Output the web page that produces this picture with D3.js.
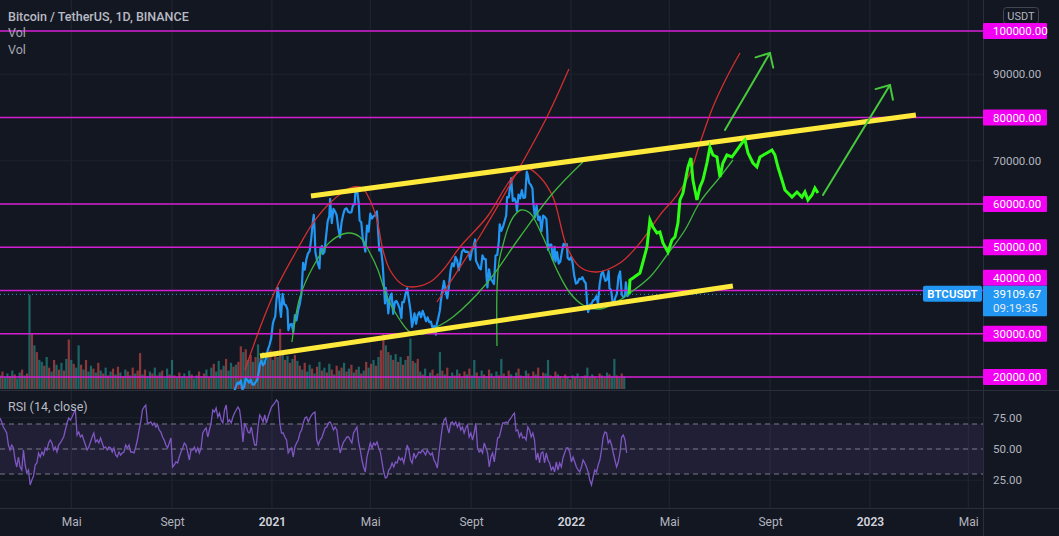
<!DOCTYPE html>
<html><head><meta charset="utf-8">
<script src="https://cdn.jsdelivr.net/npm/d3@7"></script>
<style>
html,body{margin:0;padding:0;background:#131722;overflow:hidden}
text{font-family:Roboto,"Noto Sans",sans-serif}
</style></head><body>
<svg id="chart" width="1059" height="536"></svg>
<script>
// ---------------- DATA ----------------
const priceSeries = [
["2020-11-01",13700],["2020-11-04",14100],["2020-11-07",14800],["2020-11-10",15300],["2020-11-13",16300],["2020-11-16",16700],["2020-11-18",17800],["2020-11-20",18700],["2020-11-22",18400],["2020-11-24",19200],["2020-11-26",17100],["2020-11-28",17700],["2020-11-30",19700],
["2020-12-02",19200],["2020-12-04",18700],["2020-12-06",19400],["2020-12-08",18300],["2020-12-10",18200],["2020-12-12",18800],["2020-12-14",19300],["2020-12-16",21300],["2020-12-17",22800],["2020-12-19",23800],["2020-12-21",22700],["2020-12-23",23200],["2020-12-25",24700],["2020-12-27",26300],["2020-12-29",27400],["2020-12-31",28900],
["2021-01-02",32200],["2021-01-03",33000],["2021-01-05",34000],["2021-01-06",36800],["2021-01-08",40600],["2021-01-10",38200],["2021-01-11",35500],["2021-01-12",33900],["2021-01-14",39200],["2021-01-16",36800],["2021-01-18",36600],["2021-01-20",35500],["2021-01-21",30800],["2021-01-23",32100],["2021-01-25",32300],["2021-01-27",30400],["2021-01-29",34300],["2021-01-31",33100],
["2021-02-02",35500],["2021-02-04",36900],["2021-02-06",39300],["2021-02-08",46400],["2021-02-10",44800],["2021-02-12",47200],["2021-02-14",48600],["2021-02-16",49100],["2021-02-18",52100],["2021-02-20",56000],["2021-02-21",57500],["2021-02-22",54200],["2021-02-23",48900],["2021-02-25",47000],["2021-02-26",46300],["2021-02-28",45100],
["2021-03-01",49600],["2021-03-03",50300],["2021-03-04",48400],["2021-03-06",48900],["2021-03-08",52400],["2021-03-10",56000],["2021-03-12",57200],["2021-03-13",61200],["2021-03-15",55600],["2021-03-17",58900],["2021-03-19",58300],["2021-03-21",57400],["2021-03-23",54400],["2021-03-25",52300],["2021-03-27",55800],["2021-03-29",57600],["2021-03-31",58800],
["2021-04-02",59000],["2021-04-04",58200],["2021-04-06",58000],["2021-04-08",58100],["2021-04-10",59800],["2021-04-12",59900],["2021-04-13",63600],["2021-04-15",63100],["2021-04-17",60000],["2021-04-18",56200],["2021-04-20",55800],["2021-04-22",51700],["2021-04-23",51100],["2021-04-25",49000],["2021-04-27",55000],["2021-04-29",53600],
["2021-05-01",57800],["2021-05-03",56600],["2021-05-05",57200],["2021-05-07",57400],["2021-05-09",58300],["2021-05-10",55800],["2021-05-12",49200],["2021-05-14",49700],["2021-05-16",46400],["2021-05-17",43500],["2021-05-19",37000],["2021-05-20",40600],["2021-05-22",37500],["2021-05-23",34700],["2021-05-25",38400],["2021-05-27",39300],["2021-05-29",34600],["2021-05-31",37300],
["2021-06-02",37600],["2021-06-04",36800],["2021-06-06",35800],["2021-06-08",33600],["2021-06-09",37300],["2021-06-11",37300],["2021-06-13",39100],["2021-06-15",40500],["2021-06-17",38100],["2021-06-19",35500],["2021-06-21",31600],["2021-06-22",32500],["2021-06-24",34700],["2021-06-26",32300],["2021-06-28",34400],["2021-06-30",35000],
["2021-07-02",33800],["2021-07-04",35300],["2021-07-06",34200],["2021-07-08",32900],["2021-07-10",33800],["2021-07-12",32700],["2021-07-14",32800],["2021-07-16",31400],["2021-07-18",31800],["2021-07-20",29800],["2021-07-21",32100],["2021-07-23",33600],["2021-07-25",35400],["2021-07-26",37300],["2021-07-28",40000],["2021-07-30",42200],
["2021-08-01",39800],["2021-08-03",38200],["2021-08-05",40900],["2021-08-07",44600],["2021-08-09",46300],["2021-08-11",45600],["2021-08-13",47800],["2021-08-15",47000],["2021-08-17",44700],["2021-08-19",46700],["2021-08-21",49000],["2021-08-23",49500],["2021-08-25",48900],["2021-08-27",49000],["2021-08-29",48800],["2021-08-31",47100],
["2021-09-02",49300],["2021-09-04",50000],["2021-09-06",51800],["2021-09-07",46900],["2021-09-09",46100],["2021-09-11",45200],["2021-09-13",44900],["2021-09-15",48100],["2021-09-17",47300],["2021-09-19",47200],["2021-09-20",43000],["2021-09-21",40700],["2021-09-23",44900],["2021-09-25",42700],["2021-09-27",42200],["2021-09-29",41500],
["2021-10-01",48100],["2021-10-03",48200],["2021-10-05",51500],["2021-10-06",55300],["2021-10-08",53800],["2021-10-10",54700],["2021-10-12",56000],["2021-10-14",57400],["2021-10-15",61600],["2021-10-17",61500],["2021-10-19",64300],["2021-10-20",66000],["2021-10-22",60700],["2021-10-24",61300],["2021-10-26",60300],["2021-10-27",58400],["2021-10-29",62200],["2021-10-31",61300],
["2021-11-02",63200],["2021-11-04",61400],["2021-11-06",61500],["2021-11-08",67500],["2021-11-09",66900],["2021-11-11",64900],["2021-11-13",64400],["2021-11-15",63600],["2021-11-16",60300],["2021-11-18",56900],["2021-11-20",59700],["2021-11-22",56300],["2021-11-24",57100],["2021-11-26",53700],["2021-11-28",57300],["2021-11-30",57000],
["2021-12-02",56500],["2021-12-03",53600],["2021-12-04",49400],["2021-12-06",50600],["2021-12-08",50600],["2021-12-10",47100],["2021-12-12",50100],["2021-12-13",46700],["2021-12-15",48900],["2021-12-17",46200],["2021-12-19",46700],["2021-12-21",49000],["2021-12-23",50800],["2021-12-25",50400],["2021-12-27",50700],["2021-12-28",47500],["2021-12-30",47100],
["2022-01-01",47700],["2022-01-03",46400],["2022-01-05",43400],["2022-01-07",41600],["2022-01-09",41800],["2022-01-11",42700],["2022-01-13",42600],["2022-01-15",43100],["2022-01-17",42200],["2022-01-19",41700],["2022-01-21",36400],["2022-01-22",35000],["2022-01-24",36700],["2022-01-26",36900],["2022-01-28",37700],["2022-01-30",37900],
["2022-02-01",38700],["2022-02-03",37000],["2022-02-05",41400],["2022-02-07",43800],["2022-02-09",44400],["2022-02-10",43500],["2022-02-12",42200],["2022-02-14",42500],["2022-02-16",44500],["2022-02-17",40500],["2022-02-19",40100],["2022-02-21",37000],["2022-02-23",37300],["2022-02-24",38300],["2022-02-26",39200],["2022-02-28",43200],
["2022-03-02",44400],["2022-03-04",39100],["2022-03-06",38400],["2022-03-08",38700],["2022-03-09",41900],["2022-03-11",38700],["2022-03-13",39110]
];
const lastPrice = 39109.67;
const lastPriceTime = "09:19:35";
const symbol = "BTCUSDT";

// projected path drawn by the author: [days since 2021-01-01, price]
const projection = [
[436,39110],[437,42426],[440.7,42889],[449.2,44045],[452.9,46588],[457.8,50056],[461.4,56298],[465.1,54680],[470,53293],[473.6,53524],[477.3,50981],[483.4,48900],[488.3,51674],[491.9,52368],[495.6,55605],[498,60922],[501.7,62541],[507.8,68552],[511.5,70633],[513.9,65546],[518.8,60922],[522.5,63928],[526.1,65546],[531,69477],[534.7,73176],[538.3,71326],[543.2,70864],[546.9,66240],[550.5,69477],[555.4,71326],[561.5,70864],[567.6,72482],[573.7,74101],[577.4,74794],[581.1,71789],[587.2,69477],[592,68552],[595.7,70864],[604.2,71789],[610.4,72482],[614,71326],[617.7,68552],[622.6,65546],[626.2,63234],[629.9,62541],[634.8,61616],[640.9,62772],[647,61616],[650.6,62772],[654.3,60922],[659.2,62078],[662.8,63697],[666.5,62541]
];
const upperChannel = [[47.6,61850],[786.1,80570]];
const lowerChannel = [[-14.6,24850],[562.7,41040]];
const redWave = [[-33,21620],[-11,33180],[6.1,40810],[30.5,49360],[50,55600],[70.8,60230],[95.2,63700],[109.9,63700],[119.6,60920],[128.2,56300],[135.5,49360],[144,44740],[159.9,41270],[170.9,40810],[192.9,41960],[208.7,44740],[229.5,50060],[262.5,56990],[294.2,66240],[311.3,68320],[327.1,66240],[343,61620],[360.1,50060],[376,45430],[396.7,44280],[424.8,46360],[449.2,50980],[473.6,57450],[494.4,62080],[510.3,67170],[522.5,74100],[538.3,82420],[555.4,89360],[571.3,94910]];
const redLine = [[201.4,37340],[253.9,52600],[302.7,68550],[335.7,80110],[362.5,91210]];
const greenWave = [[24.4,28090],[34.2,38500],[50,45430],[70.8,51210],[92.8,53290],[107.4,52370],[119.6,48670],[129.4,44740],[140.4,38500],[156.2,33180],[168.5,30400],[184.3,29940],[201.4,31560],[220.9,33870],[262.5,41730],[302.7,52370],[343,62540],[379.6,69710]];
const greenCurve = [[274.7,27170],[274.7,40110],[277.1,46590],[282,50520],[288.1,54450],[295.4,57220],[304,58610],[314.9,57920],[330.8,52370],[347.9,44740],[363.8,39420],[379.6,36650],[400.4,35720],[418.7,37110],[437,39420],[461.4,43120],[482.2,48210],[504.2,53990],[522.5,60460],[546.9,66240],[562.7,70170]];
const arrows = [[[553,77110],[607.9,94910]],[[672.6,62080],[754.4,87510]]];

const levelLines = [100000, 80000, 60000, 50000, 40000, 30000, 20000];
const plainTicks = [90000, 70000];
const gridPrices = [20000,30000,40000,50000,60000,70000,80000,90000,100000];

const timeTicks = ["2020-05-01","2020-09-01","2021-01-01","2021-05-01","2021-09-01","2022-01-01","2022-05-01","2022-09-01","2023-01-01","2023-05-01"];
const timeLabels = ["Mai","Sept","2021","Mai","Sept","2022","Mai","Sept","2023","Mai"];

const rsiStart = "2020-02-04", rsiEnd = "2022-03-10";
const rsiValues = [74.8,71.6,67.6,65.2,62.8,53.2,49.2,53.2,50.8,41.2,35.6,43.6,35.6,33.2,49.2,37.2,30.8,33.2,21.2,25.2,28.4,37.2,38.8,46.8,43.6,47.6,45.2,50.8,49.2,54.8,57.2,54.8,49.2,51.6,47.6,53.2,54.8,57.2,59.6,65.2,70.8,74.8,73.2,75.6,78.8,81.2,61.2,63.6,59.6,61.2,57.2,53.2,49.2,51.6,55.6,59.6,62.8,55.6,57.2,54.8,58.8,54.8,50.8,51.6,49.2,51.6,50.8,47.6,50.8,45.2,43.6,47.6,45.2,46.8,47.6,53.2,50.8,53.2,47.6,47.6,46.8,51.6,57.2,65.2,71.6,81.2,83.6,85.2,70.8,70.8,71.6,69.2,70.8,67.6,69.2,65.2,63.6,59.6,57.2,53.2,50.8,54.8,58.8,35.6,37.2,39.6,38.8,43.6,47.6,50.8,54.8,53.2,47.6,41.2,49.2,49.2,51.6,47.6,50.8,46.8,50.8,62.8,65.2,66.8,59.6,65.2,70.8,81.2,79.6,82.8,75.6,78.8,73.2,70.8,81.2,85.2,71.6,73.2,70.8,75.6,78.8,81.2,83.6,81.2,70.8,55.6,70.8,67.6,63.6,62.8,67.6,59.6,53.2,53.2,67.6,77.2,74.8,71.6,77.2,70.8,75.6,79.6,83.6,85.2,86.8,89.2,87.6,70.8,62.8,62.8,59.6,57.2,46.8,49.2,50.8,43.6,51.6,54.8,57.2,62.8,65.2,70.8,74.8,75.6,71.6,74.8,77.2,78.8,79.6,57.2,53.2,57.2,58.8,62.8,66.8,67.6,70.8,71.6,69.2,65.2,67.6,65.2,54.8,46.8,51.6,55.6,57.2,59.6,59.6,57.2,54.8,62.8,65.2,67.6,55.6,49.2,41.2,35.6,31.6,43.6,49.2,54.8,50.8,54.8,53.2,55.6,50.8,47.6,39.6,31.6,26.8,27.6,33.2,34.8,38.8,35.6,39.6,38.8,43.6,41.2,42.8,38.8,45.2,53.2,49.2,41.2,38.8,46.8,42.8,45.2,47.6,46.8,49.2,47.6,45.2,49.2,46.8,45.2,46.8,41.2,38.8,34.8,46.8,57.2,67.6,73.2,74.8,67.6,62.8,70.8,71.6,69.2,71.6,67.6,70.8,65.2,67.6,62.8,66.8,69.2,59.6,62.8,57.2,62.8,70.8,50.8,47.6,49.2,46.8,54.8,50.8,46.8,35.6,43.6,46.8,39.6,49.2,58.8,59.6,65.2,70.8,
70.8,71.6,70.8,73.2,74.8,77.2,78.8,64.4,65.2,59.6,62.8,58.8,59.6,57.2,67.6,65.2,59.6,62.8,57.2,41.2,46.8,38.8,46.8,47.6,38.8,46.8,41.2,38.8,33.2,35.6,31.6,39.6,33.2,38.8,35.6,42.8,46.8,50.8,50.8,47.6,39.6,43.6,39.6,35.6,33.2,31.6,35.6,41.2,38.8,35.6,31.6,25.2,21.2,27.6,33.2,31.6,37.2,41.2,49.2,59.6,63.6,62.8,54.8,57.2,53.2,46.8,41.2,35.6,39.6,46.8,59.6,61.2,57.2,46.8];
const rsiTicks = [75, 50, 25];
const rsiBands = [70, 50, 30];

// volume, one value every 3 days from volStart; positive = up day, negative = down day
const volStart = "2020-02-04", volStepDays = 3;
const volumeValues = [14,-18,12,16,-13,19,-15,11,17,-20,14,-16,97,-57,45,-38,30,28,-24,33,-22,18,-30,25,-20,27,-19,31,-51,30,-26,22,45,-25,20,-30,18,24,-21,17,-27,19,-16,22,-14,18,-21,15,-23,17,-13,20,-18,14,-22,16,-19,-37,15,-20,13,18,-16,22,-14,17,-19,12,21,-15,30,-14,12,-17,13,16,-12,19,-15,11,14,-18,13,-16,20,-12,22,-26,18,29,-20,24,-31,19,27,-23,25,-28,-44,38,-41,30,-35,28,-33,46,-32,38,-28,35,-40,30,-36,33,-62,37,-30,34,-27,31,-35,29,-24,20,-27,18,25,-21,16,-23,28,-19,22,-17,26,-20,15,-24,19,-22,27,-18,21,-25,17,-20,23,-16,19,-28,22,-26,30,-24,33,-40,-57,45,-38,35,-30,36,-28,33,-25,30,-34,52,-29,27,-31,18,-15,21,-13,17,-20,14,-16,38,-19,15,-22,13,17,-14,20,-16,12,-18,15,-21,14,30,-17,12,19,-15,13,-20,16,-12,18,-14,31,-16,13,-19,15,-12,17,-21,14,-13,19,-16,12,-18,15,-22,13,-17,16,30,-14,12,-18,15,-13,11,-15,12,-10,14,-12,16,-11,13,-14,22,-12,15,-13,11,-16,14,-12,17,-15,13,31,-14,12,-16,13];

// ---------------- CHART ----------------
const W = 1059, H = 536, plotR = 983, mainBot = 390, rsiTop = 391, rsiBot = 508;
const svg = d3.select("#chart");
const parse = d3.timeParse("%Y-%m-%d");
const base = parse("2021-01-01");
const dayT = d => new Date(base.getTime() + d * 864e5);

const x = d3.scaleTime().domain([parse("2020-02-04"), parse("2023-05-19")]).range([0, plotR]);
const y = d3.scaleLinear().domain([20000, 100000]).range([377, 31]);
const yR = d3.scaleLinear().domain([30, 70]).range([474, 424]);
const yV = d3.scaleLinear().domain([0, 100]).range([389, 292]);

svg.append("rect").attr("width", W).attr("height", H).attr("fill", "#131722");

const defs = svg.append("defs");
defs.append("clipPath").attr("id", "cMain").append("rect").attr("x", 0).attr("y", 0).attr("width", plotR).attr("height", mainBot);
defs.append("clipPath").attr("id", "cRsi").append("rect").attr("x", 0).attr("y", rsiTop).attr("width", plotR).attr("height", rsiBot - rsiTop);

// grid
const grid = svg.append("g");
grid.selectAll("line.v").data(timeTicks).join("line")
  .attr("x1", d => x(parse(d))).attr("x2", d => x(parse(d)))
  .attr("y1", 0).attr("y2", rsiBot).attr("stroke", "#232733").attr("stroke-width", 1);
grid.selectAll("line.h").data(gridPrices).join("line")
  .attr("x1", 0).attr("x2", plotR).attr("y1", d => y(d)).attr("y2", d => y(d))
  .attr("stroke", "#1f232e");
grid.selectAll("line.r").data(rsiTicks).join("line")
  .attr("x1", 0).attr("x2", plotR).attr("y1", d => yR(d)).attr("y2", d => yR(d))
  .attr("stroke", "#1f232e");

// pane separators
svg.append("line").attr("x1", 0).attr("x2", W).attr("y1", 390.5).attr("y2", 390.5).attr("stroke", "#2a2e39");
svg.append("line").attr("x1", 0).attr("x2", W).attr("y1", rsiBot + 0.5).attr("y2", rsiBot + 0.5).attr("stroke", "#2a2e39");
svg.append("line").attr("x1", plotR + 0.5).attr("x2", plotR + 0.5).attr("y1", 0).attr("y2", H).attr("stroke", "#2a2e39");

// main pane
const main = svg.append("g").attr("clip-path", "url(#cMain)");

// volume
const vol = volumeValues.map((v, i) => ({ t: d3.timeDay.offset(parse(volStart), i * volStepDays), v }));
main.append("g").selectAll("rect").data(vol).join("rect")
  .attr("x", d => x(d.t) - 1.1).attr("width", 2.2)
  .attr("y", d => yV(Math.abs(d.v))).attr("height", d => yV(0) - yV(Math.abs(d.v)))
  .attr("fill", d => d.v > 0 ? "rgba(38,166,154,0.55)" : "rgba(239,83,80,0.55)");

// price line
const price = priceSeries.map(d => ({ t: parse(d[0]), v: d[1] }));
main.append("path").datum(price)
  .attr("d", d3.line().x(d => x(d.t)).y(d => y(d.v)))
  .attr("fill", "none").attr("stroke", "#2196f3").attr("stroke-width", 2.2).attr("stroke-linejoin", "round");

// last price dotted line
main.append("line").attr("x1", 0).attr("x2", plotR).attr("y1", y(lastPrice)).attr("y2", y(lastPrice))
  .attr("stroke", "#2196f3").attr("stroke-dasharray", "1,3").attr("stroke-width", 1);

// horizontal level lines
main.selectAll("line.lvl").data(levelLines).join("line")
  .attr("x1", 0).attr("x2", plotR).attr("y1", d => y(d)).attr("y2", d => y(d))
  .attr("stroke", "#d41ed4").attr("stroke-width", 1.3);

const dl = d3.line().x(d => x(dayT(d[0]))).y(d => y(d[1])).curve(d3.curveCatmullRom.alpha(0.5));
const ll = d3.line().x(d => x(dayT(d[0]))).y(d => y(d[1]));

main.append("path").datum(redWave).attr("d", dl).attr("fill", "none").attr("stroke", "#d32f2f").attr("stroke-width", 1.3);
main.append("path").datum(redLine).attr("d", dl).attr("fill", "none").attr("stroke", "#d32f2f").attr("stroke-width", 1.3);
main.append("path").datum(greenWave).attr("d", dl).attr("fill", "none").attr("stroke", "#3fb43f").attr("stroke-width", 1.3);
main.append("path").datum(greenCurve).attr("d", dl).attr("fill", "none").attr("stroke", "#3fb43f").attr("stroke-width", 1.3);

// channel
[upperChannel, lowerChannel].forEach(c => {
  main.append("path").datum(c).attr("d", ll).attr("fill", "none").attr("stroke", "#ffe93b").attr("stroke-width", 5);
});

// projection
main.append("path").datum(projection).attr("d", ll).attr("fill", "none")
  .attr("stroke", "#2cff14").attr("stroke-width", 3).attr("stroke-linejoin", "miter");

// arrows
arrows.forEach(a => {
  const x0 = x(dayT(a[0][0])), y0 = y(a[0][1]), x1 = x(dayT(a[1][0])), y1 = y(a[1][1]);
  const ang = Math.atan2(y0 - y1, x0 - x1), L = 15, sp = Math.PI / 4.2;
  const g = main.append("g").attr("stroke", "#46c93a").attr("stroke-width", 2).attr("fill", "none").attr("stroke-linecap", "round");
  g.append("path").datum(a).attr("d", ll);
  g.append("path").attr("d", `M${x1 + L * Math.cos(ang - sp)},${y1 + L * Math.sin(ang - sp)}L${x1},${y1}L${x1 + L * Math.cos(ang + sp)},${y1 + L * Math.sin(ang + sp)}`);
});

// RSI pane
const rsi = svg.append("g").attr("clip-path", "url(#cRsi)");
rsi.append("rect").attr("x", 0).attr("width", plotR).attr("y", yR(70)).attr("height", yR(30) - yR(70)).attr("fill", "rgba(126,87,194,0.13)");
rsi.selectAll("line.b").data(rsiBands).join("line")
  .attr("x1", 0).attr("x2", plotR).attr("y1", d => yR(d)).attr("y2", d => yR(d))
  .attr("stroke", "#787b86").attr("stroke-dasharray", "5,4").attr("stroke-width", 1);
const ri = d3.scaleLinear().domain([0, rsiValues.length - 1]).range([parse(rsiStart), parse(rsiEnd)]);
rsi.append("path").datum(rsiValues)
  .attr("d", d3.line().x((d, i) => x(ri(i))).y(d => yR(d)))
  .attr("fill", "none").attr("stroke", "#7e57c2").attr("stroke-width", 1.3);

// texts top-left
svg.append("text").attr("x", 8).attr("y", 20.5).attr("fill", "#b8bbc3").attr("font-size", 12.5).attr("font-weight", 500).text("Bitcoin / TetherUS, 1D, BINANCE");
svg.append("text").attr("x", 8).attr("y", 37).attr("fill", "#a3a6ae").attr("font-size", 12.5).text("Vol");
svg.append("text").attr("x", 8).attr("y", 54).attr("fill", "#a3a6ae").attr("font-size", 12.5).text("Vol");
svg.append("text").attr("x", 8).attr("y", 411).attr("fill", "#b8bbc3").attr("font-size", 12.5).text("RSI (14, close)");

// time axis
const xAxis = d3.axisBottom(x).tickValues(timeTicks.map(parse)).tickFormat((d, i) => timeLabels[i]).tickSize(0).tickPadding(0);
const gx = svg.append("g").attr("transform", `translate(0,${rsiBot + 9})`).call(xAxis);
gx.select(".domain").remove();
gx.selectAll("text").attr("font-size", 12).attr("fill", (d, i) => /\d/.test(timeLabels[i]) ? "#d1d4dc" : "#b2b5be")
  .attr("font-weight", (d, i) => /\d/.test(timeLabels[i]) ? 600 : 400).attr("font-family", "Roboto,sans-serif");

// price axis plain ticks
const yAxis = d3.axisRight(y).tickValues(plainTicks).tickFormat(d3.format(".2f")).tickSize(0).tickPadding(10);
const gy = svg.append("g").attr("transform", `translate(${plotR},0)`).call(yAxis);
gy.select(".domain").remove();
gy.selectAll("text").attr("font-size", 11.5).attr("fill", "#b2b5be").attr("font-family", "Roboto,sans-serif");

// RSI axis
const rAxis = d3.axisRight(yR).tickValues(rsiTicks).tickFormat(d3.format(".2f")).tickSize(0).tickPadding(10);
const gr = svg.append("g").attr("transform", `translate(${plotR},0)`).call(rAxis);
gr.select(".domain").remove();
gr.selectAll("text").attr("font-size", 11.5).attr("fill", "#b2b5be").attr("font-family", "Roboto,sans-serif");

// USDT box
svg.append("rect").attr("x", 1003.5).attr("y", 7.5).attr("width", 35).attr("height", 16).attr("rx", 3)
  .attr("fill", "#131722").attr("stroke", "#434651");
svg.append("text").attr("x", 1021).attr("y", 19.5).attr("text-anchor", "middle").attr("fill", "#b2b5be").attr("font-size", 11).text("USDT");

// last-price label
const lpY = y(lastPrice), lpTop = lpY - 8.5, lpBot = lpY + 22;
// level labels (push overlapping ones up)
const lvl = svg.append("g");
levelLines.forEach(v => {
  let cy = y(v);
  if (cy + 8 > lpTop && cy - 8 < lpBot) cy = lpTop - 8;
  lvl.append("rect").attr("x", plotR).attr("y", cy - 8).attr("width", 64).attr("height", 16).attr("rx", 1).attr("fill", "#f200f2");
  lvl.append("text").attr("x", plotR + 10).attr("y", cy + 4).attr("fill", "#ffffff").attr("font-size", 11.5).text(d3.format(".2f")(v));
});
lvl.append("rect").attr("x", plotR).attr("y", lpTop).attr("width", 64).attr("height", lpBot - lpTop).attr("rx", 1).attr("fill", "#2196f3");
lvl.append("text").attr("x", plotR + 10).attr("y", lpY + 4).attr("fill", "#ffffff").attr("font-size", 11.5).text(d3.format(".2f")(lastPrice));
lvl.append("text").attr("x", plotR + 10).attr("y", lpY + 18).attr("fill", "#e6ecf5").attr("font-size", 11.5).text(lastPriceTime);
lvl.append("rect").attr("x", plotR - 60).attr("y", lpTop).attr("width", 59).attr("height", 16).attr("rx", 2).attr("fill", "#2196f3");
lvl.append("text").attr("x", plotR - 30.5).attr("y", lpY + 4).attr("text-anchor", "middle").attr("fill", "#ffffff").attr("font-size", 11.5).attr("font-weight", 600).text(symbol);
</script>
</body></html>
